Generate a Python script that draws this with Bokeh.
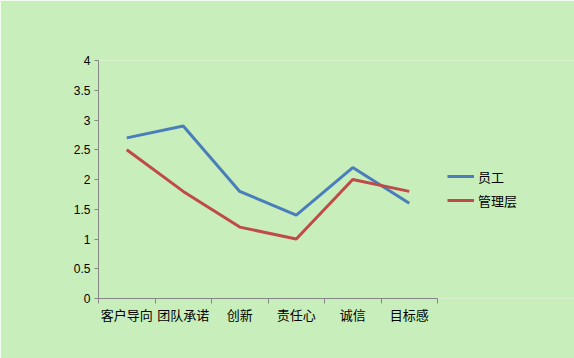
from bokeh.plotting import figure
from bokeh.models import Range1d, FixedTicker, Legend, LegendItem, ColumnDataSource
from bokeh.embed import file_html
from bokeh.resources import INLINE

categories = ["客户导向", "团队承诺", "创新", "责任心", "诚信", "目标感"]
staff = [2.7, 2.9, 1.8, 1.4, 2.2, 1.6]
managers = [2.5, 1.8, 1.2, 1.0, 2.0, 1.8]
y_ticks = [0, 0.5, 1, 1.5, 2, 2.5, 3, 3.5, 4]
y_labels = ["0", "0.5", "1", "1.5", "2", "2.5", "3", "3.5", "4"]

BG = "#C8EEBB"
W, H = 574, 358
LEFT, AXIS_RIGHT, TOP, BOTTOM = 98, 437, 60, 298
n = len(categories)
xs = [i + 0.5 for i in range(n)]
x_end = n * (W - LEFT) / (AXIS_RIGHT - LEFT)  # frame extends under the legend area

p = figure(width=W, height=H, output_backend="svg", toolbar_location=None,
           x_range=Range1d(0, x_end), y_range=Range1d(0, 4),
           min_border_left=LEFT, min_border_right=0, min_border_top=TOP,
           min_border_bottom=H - BOTTOM)
p.background_fill_color = BG
p.border_fill_color = BG
p.outline_line_color = None
p.grid.visible = False

src = ColumnDataSource(dict(x=xs, staff=staff, managers=managers))
r1 = p.line("x", "staff", source=src, line_color="#4A7EBB", line_width=3)
r2 = p.line("x", "managers", source=src, line_color="#BE4B48", line_width=3)

xa = p.xaxis[0]
xa.bounds = (0, n)
xa.ticker = FixedTicker(ticks=xs, minor_ticks=list(range(n + 1)))
xa.major_label_overrides = {x: c for x, c in zip(xs, categories)}
xa.major_tick_out = 0
xa.major_tick_in = 0
xa.minor_tick_out = 5
xa.minor_tick_in = 0
xa.minor_tick_line_color = "#868686"
xa.axis_line_color = "#868686"
xa.major_label_standoff = 1
xa.major_label_text_font = "Noto Sans CJK SC"
xa.major_label_text_font_size = "13px"
xa.major_label_text_color = "#000000"

ya = p.yaxis[0]
ya.ticker = FixedTicker(ticks=y_ticks)
ya.major_label_overrides = {t: l for t, l in zip(y_ticks, y_labels)}
ya.major_tick_out = 4
ya.major_tick_in = 0
ya.minor_tick_out = 0
ya.minor_tick_in = 0
ya.major_tick_line_color = "#868686"
ya.axis_line_color = "#868686"
ya.major_label_standoff = 4
ya.major_label_text_font = "Liberation Sans"
ya.major_label_text_font_size = "12px"
ya.major_label_text_color = "#000000"

legend = Legend(items=[LegendItem(label="员工", renderers=[r1]),
                       LegendItem(label="管理层", renderers=[r2])],
                location=(349, 88), orientation="vertical")
legend.background_fill_alpha = 0
legend.border_line_color = None
legend.label_text_font = "Noto Sans CJK SC"
legend.label_text_font_size = "13px"
legend.label_text_color = "#000000"
legend.glyph_width = 27
legend.spacing = 4
legend.label_standoff = 4
p.add_layout(legend, "center")

html = file_html(p, INLINE)
html = html.replace("<body>", '<body style="background:%s">' % BG, 1)
open("out.html", "w").write(html)
